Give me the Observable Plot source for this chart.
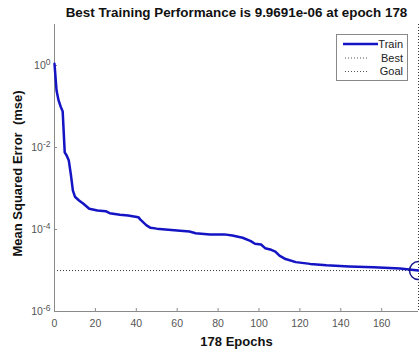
<!DOCTYPE html>
<html>
<head>
<meta charset="utf-8">
<script src="https://cdn.jsdelivr.net/npm/d3@7"></script>
<script src="https://cdn.jsdelivr.net/npm/@observablehq/plot@0.6"></script>
<style>
  body { margin: 0; background: #fff; font-family: "Liberation Sans", Arial, sans-serif; }
  #wrap { position: relative; width: 419px; height: 354px; overflow: hidden; }
  #chart { position: absolute; left: 0; top: 0; }
  .lbl { position: absolute; font-weight: bold; font-size: 13px; line-height: 15px; color: #111; white-space: pre; text-align: center; }
  #title { left: 54px; width: 365px; top: 5px; font-size: 13.4px; }
  #xlabel { left: 54px; width: 365px; top: 334px; }
  #ylabel { left: -83px; width: 200px; top: 166px; transform: rotate(-90deg); }
  #legend { position: absolute; left: 336px; top: 34px; }
</style>
</head>
<body>
<div id="wrap">
  <div id="chart"></div>
  <div class="lbl" id="title"></div>
  <div class="lbl" id="ylabel"></div>
  <div class="lbl" id="xlabel"></div>
  <svg id="legend" width="72" height="47"></svg>
</div>
<script>
// Training record: epoch and mean squared error
const epochs = [0, 1, 2, 3, 4, 5, 6, 7, 8, 9, 10, 12, 14, 17, 21, 25, 27, 32, 36, 41, 42, 45, 47, 50,
  60, 66, 69, 76, 83, 87, 92, 96, 98, 101, 103, 106, 108, 110, 113, 118, 125, 133, 144, 156, 169, 178];
const trainMse = [1.1, 0.245, 0.141, 0.1, 0.076, 0.0076, 0.0063, 0.0048, 0.0022, 0.00089, 0.00063, 0.00051, 0.00043, 0.00032,
  0.00029, 0.00028, 0.00025, 0.00023, 0.00022, 0.0002, 0.000174, 0.000126, 0.00011, 0.000105,
  9.5e-5, 8.9e-5, 8.1e-5, 7.6e-5, 7.6e-5, 7.1e-5, 6.3e-5, 5.2e-5, 4.5e-5, 4.3e-5, 3.5e-5, 3.2e-5,
  2.9e-5, 2.3e-5, 1.9e-5, 1.6e-5, 1.45e-5, 1.35e-5, 1.26e-5, 1.2e-5, 1.12e-5, 9.9691e-6];

const bestEpoch = 178;
const bestPerf = 9.9691e-6;
const goalPerf = 0; // goal of zero lies off the log axis

const xTicks = [0, 20, 40, 60, 80, 100, 120, 140, 160];
const yTicks = [1e0, 1e-2, 1e-4, 1e-6];
const legendLabels = ["Train", "Best", "Goal"];

const titleText = `Best Training Performance is ${bestPerf.toExponential(4).replace(/e-(\d)$/, "e-0$1")} at epoch ${bestEpoch}`;
const xLabelText = `${bestEpoch} Epochs`;
const yLabelText = "Mean Squared Error  (mse)";

const lineColor = "#1414c4";
const circleColor = "#15158a";
const axisColor = "#8a8a8a";

const train = epochs.map((e, i) => ({epoch: e, mse: trainMse[i]}));

const chart = Plot.plot({
  width: 419,
  height: 354,
  marginLeft: 54,
  marginRight: 1,
  marginTop: 24,
  marginBottom: 43,
  style: {fontFamily: '"Liberation Sans", Arial, sans-serif', fontSize: "10.5px", color: "#555", background: "transparent"},
  x: {domain: [0, bestEpoch]},
  y: {type: "log", domain: [1e-6, 10]},
  marks: [
    Plot.ruleY([bestPerf], {stroke: "#333", strokeWidth: 1, strokeDasharray: "1,2"}),
    Plot.ruleX([bestEpoch], {stroke: "#333", strokeWidth: 1, strokeDasharray: "1,2"}),
    Plot.ruleX([0], {stroke: axisColor}),
    Plot.ruleY([1e-6], {stroke: axisColor}),
    Plot.axisX({ticks: xTicks, tickSize: -3, tickPadding: 11, label: null, stroke: axisColor}),
    Plot.axisY({ticks: yTicks, tickSize: -3, tickPadding: 7, label: null, stroke: axisColor,
      tickFormat: d => `10^${Math.round(Math.log10(d))}`}),
    Plot.line(train, {x: "epoch", y: "mse", stroke: lineColor, strokeWidth: 2.5}),
    Plot.dot([{epoch: bestEpoch, mse: bestPerf}], {x: "epoch", y: "mse", r: 9, stroke: circleColor, strokeWidth: 1.5, fill: "none"})
  ]
});
document.getElementById("chart").appendChild(chart);

// Power-of-ten tick labels with superscript exponents
d3.select(chart).selectAll('g[aria-label="y-axis tick label"] text').each(function() {
  const t = d3.select(this);
  const [base, exp] = t.text().split("^");
  t.text(base);
  t.append("tspan").attr("dy", "-0.5em").attr("font-size", "8.5px").text(exp);
});

document.getElementById("title").textContent = titleText;
document.getElementById("xlabel").textContent = xLabelText;
document.getElementById("ylabel").textContent = yLabelText;

// Legend box
const lg = d3.select("#legend");
lg.append("rect").attr("x", 0.5).attr("y", 0.5).attr("width", 71).attr("height", 46)
  .attr("fill", "#fff").attr("stroke", "#888");
const rowY = [10, 24, 37.5];
legendLabels.forEach((name, i) => {
  const y = rowY[i];
  if (i === 0) {
    lg.append("line").attr("x1", 7).attr("x2", 42).attr("y1", y).attr("y2", y)
      .attr("stroke", lineColor).attr("stroke-width", 2.5);
  } else {
    lg.append("line").attr("x1", 9).attr("x2", 33).attr("y1", y).attr("y2", y)
      .attr("stroke", "#555").attr("stroke-width", 1).attr("stroke-dasharray", "1,2");
  }
  lg.append("text").attr("x", 67).attr("y", y).attr("dy", "0.35em").attr("text-anchor", "end")
    .attr("font-family", '"Liberation Sans", Arial, sans-serif').attr("font-size", "11px").attr("fill", "#222")
    .text(name);
});
</script>
</body>
</html>
